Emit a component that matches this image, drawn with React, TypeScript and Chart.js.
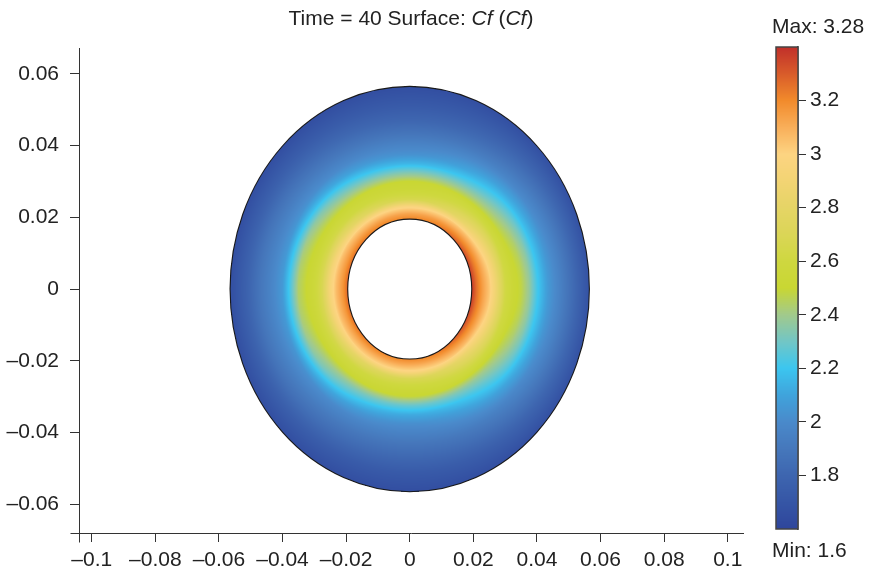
import React, { useEffect, useRef } from 'react';
import { Chart, registerables } from 'chart.js';

Chart.register(...registerables);

// ---------------- data ----------------
const innerRadius = 0.0195;
const outerRadius = 0.0565;

// radial sample positions (m) and Cf read along four directions
const radii = [0.0195, 0.021, 0.023, 0.025, 0.0275, 0.03, 0.0325, 0.035, 0.0375, 0.04, 0.0435, 0.047, 0.051, 0.0565];
const cfRight = [3.38, 3.26, 3.14, 3.04, 2.84, 2.62, 2.53, 2.48, 2.38, 2.22, 2.06, 1.96, 1.84, 1.67];
const cfTop = [3.21, 3.13, 2.97, 2.66, 2.55, 2.5, 2.33, 2.15, 2.03, 1.97, 1.88, 1.8, 1.73, 1.65];
const cfLeft = [3.28, 3.17, 3.07, 2.93, 2.68, 2.56, 2.5, 2.44, 2.24, 2.06, 1.97, 1.89, 1.78, 1.65];
const cfBottom = [3.21, 3.12, 2.98, 2.68, 2.56, 2.49, 2.28, 2.12, 2.02, 1.96, 1.88, 1.81, 1.73, 1.65];

const xTicks = [-0.1, -0.08, -0.06, -0.04, -0.02, 0, 0.02, 0.04, 0.06, 0.08, 0.1];
const yTicks = [-0.06, -0.04, -0.02, 0, 0.02, 0.04, 0.06];
const cbTicks = [1.8, 2, 2.2, 2.4, 2.6, 2.8, 3, 3.2];

const cmapValues = [1.6, 1.7, 1.8, 1.9, 2.0, 2.1, 2.2, 2.3, 2.4, 2.5, 2.6, 2.7, 2.8, 2.9, 3.0, 3.1, 3.2, 3.3, 3.4];
const cmapColors = ['#2f469c', '#3656a6', '#3e66b0', '#4678bc', '#4a8acb', '#40a4dc', '#3cc6f0', '#72c6c6', '#a2ca8c', '#c9d733', '#cfd840', '#dbd657', '#e6d566', '#f3d474', '#fdd482', '#f9af5a', '#f28b2c', '#d95c2a', '#c1302a'];

const titleParts = [
  { text: 'Time = 40 Surface: ', italic: false },
  { text: 'Cf', italic: true },
  { text: ' (', italic: false },
  { text: 'Cf', italic: true },
  { text: ')', italic: false },
];
const maxLabel = 'Max: 3.28';
const minLabel = 'Min: 1.6';

// ---------------- helpers ----------------
const FAMILY = '"Liberation Sans", Arial, Helvetica, sans-serif';
const FONT_SIZE = 21;
const TEXT = '#222222';
const AXIS = '#333333';

const cmapRgb = cmapColors.map((h) => [
  parseInt(h.slice(1, 3), 16),
  parseInt(h.slice(3, 5), 16),
  parseInt(h.slice(5, 7), 16),
]);

function colorOf(v: number): number[] {
  const n = cmapValues.length;
  if (v <= cmapValues[0]) return cmapRgb[0];
  if (v >= cmapValues[n - 1]) return cmapRgb[n - 1];
  let i = 0;
  while (i < n - 2 && v > cmapValues[i + 1]) i++;
  const t = (v - cmapValues[i]) / (cmapValues[i + 1] - cmapValues[i]);
  const a = cmapRgb[i];
  const b = cmapRgb[i + 1];
  return [a[0] + (b[0] - a[0]) * t, a[1] + (b[1] - a[1]) * t, a[2] + (b[2] - a[2]) * t];
}

function profileAt(p: number[], r: number): number {
  const n = radii.length;
  if (r <= radii[0]) return p[0];
  if (r >= radii[n - 1]) return p[n - 1];
  let i = 0;
  while (i < n - 2 && r > radii[i + 1]) i++;
  const t = (r - radii[i]) / (radii[i + 1] - radii[i]);
  return p[i] + (p[i + 1] - p[i]) * t;
}

const profiles = [cfRight, cfTop, cfLeft, cfBottom];

function cfAt(x: number, y: number): number {
  const r = Math.hypot(x, y);
  let th = Math.atan2(y, x);
  if (th < 0) th += Math.PI * 2;
  const seg = th / (Math.PI / 2);
  const i = Math.floor(seg) % 4;
  const f = seg - Math.floor(seg);
  const w = (1 - Math.cos(Math.PI * f)) / 2;
  return (1 - w) * profileAt(profiles[i], r) + w * profileAt(profiles[(i + 1) % 4], r);
}

function fmt(v: number): string {
  if (v === 0) return '0';
  return (v < 0 ? '\u2013' : '') + String(Math.abs(v));
}

const surfacePlugin = {
  id: 'surface',
  beforeDatasetsDraw(chart: any) {
    const { ctx, scales } = chart;
    const xs = scales.x;
    const ys = scales.y;
    const x0 = Math.floor(xs.getPixelForValue(-outerRadius)) - 1;
    const x1 = Math.ceil(xs.getPixelForValue(outerRadius)) + 1;
    const y0 = Math.floor(ys.getPixelForValue(outerRadius)) - 1;
    const y1 = Math.ceil(ys.getPixelForValue(-outerRadius)) + 1;
    const w = x1 - x0;
    const h = y1 - y0;
    const off = document.createElement('canvas');
    off.width = w;
    off.height = h;
    const octx = off.getContext('2d')!;
    const img = octx.createImageData(w, h);
    for (let j = 0; j < h; j++) {
      const dy = ys.getValueForPixel(y0 + j + 0.5);
      for (let i = 0; i < w; i++) {
        const dx = xs.getValueForPixel(x0 + i + 0.5);
        const r = Math.hypot(dx, dy);
        const k = (j * w + i) * 4;
        if (r < innerRadius || r > outerRadius) {
          img.data[k + 3] = 0;
          continue;
        }
        const c = colorOf(cfAt(dx, dy));
        img.data[k] = c[0];
        img.data[k + 1] = c[1];
        img.data[k + 2] = c[2];
        img.data[k + 3] = 255;
      }
    }
    octx.putImageData(img, 0, 0);
    ctx.save();
    ctx.drawImage(off, x0, y0);
    const cx = xs.getPixelForValue(0);
    const cy = ys.getPixelForValue(0);
    ctx.strokeStyle = '#1a1a1a';
    ctx.lineWidth = 1.1;
    for (const rr of [outerRadius, innerRadius]) {
      const rx = xs.getPixelForValue(rr) - cx;
      const ry = cy - ys.getPixelForValue(rr);
      ctx.beginPath();
      ctx.ellipse(cx, cy, rx, ry, 0, 0, Math.PI * 2);
      ctx.stroke();
    }
    ctx.restore();
  },
  afterDraw(chart: any) {
    const { ctx, chartArea } = chart;
    ctx.save();
    // corner extensions of the axes
    ctx.strokeStyle = AXIS;
    ctx.lineWidth = 1;
    const lx = Math.round(chartArea.left) + 0.5;
    const by = Math.round(chartArea.bottom) + 0.5;
    ctx.beginPath();
    ctx.moveTo(lx - 9, by);
    ctx.lineTo(lx, by);
    ctx.moveTo(lx, by);
    ctx.lineTo(lx, by + 9);
    ctx.stroke();
    // title
    ctx.fillStyle = TEXT;
    ctx.textBaseline = 'alphabetic';
    ctx.textAlign = 'left';
    let total = 0;
    const widths: number[] = [];
    for (const p of titleParts) {
      ctx.font = `${p.italic ? 'italic ' : ''}${FONT_SIZE}px ${FAMILY}`;
      const wd = ctx.measureText(p.text).width;
      widths.push(wd);
      total += wd;
    }
    let x = (chartArea.left + chartArea.right) / 2 - total / 2;
    titleParts.forEach((p, i) => {
      ctx.font = `${p.italic ? 'italic ' : ''}${FONT_SIZE}px ${FAMILY}`;
      ctx.fillText(p.text, x, 25);
      x += widths[i];
    });
    ctx.restore();
  },
};

const colorbarPlugin = {
  id: 'colorbar',
  beforeDatasetsDraw(chart: any) {
    const { ctx, chartArea: a, scales } = chart;
    const ys = scales.y;
    ctx.save();
    for (let py = Math.floor(a.top); py < Math.ceil(a.bottom); py++) {
      const c = colorOf(ys.getValueForPixel(py + 0.5));
      ctx.fillStyle = `rgb(${c[0] | 0},${c[1] | 0},${c[2] | 0})`;
      ctx.fillRect(a.left, py, a.right - a.left, 1);
    }
    ctx.strokeStyle = '#444444';
    ctx.lineWidth = 1.5;
    ctx.strokeRect(a.left, a.top, a.right - a.left, a.bottom - a.top);
    ctx.restore();
  },
  afterDraw(chart: any) {
    const { ctx } = chart;
    ctx.save();
    ctx.fillStyle = TEXT;
    ctx.font = `${FONT_SIZE}px ${FAMILY}`;
    ctx.textAlign = 'left';
    ctx.textBaseline = 'alphabetic';
    ctx.fillText(maxLabel, 32, 33);
    ctx.fillText(minLabel, 32, 557);
    ctx.restore();
  },
};

export default function App() {
  const mainRef = useRef<HTMLCanvasElement>(null);
  const cbRef = useRef<HTMLCanvasElement>(null);

  useEffect(() => {
    const tickFont = { family: FAMILY, size: FONT_SIZE };
    const gridOpts = {
      display: true,
      drawOnChartArea: false,
      drawTicks: true,
      tickLength: 9,
      color: AXIS,
      tickColor: AXIS,
      lineWidth: 1,
    };
    const main = new Chart(mainRef.current!, {
      type: 'scatter',
      data: { datasets: [{ data: [], pointRadius: 0 }] },
      options: {
        responsive: false,
        animation: false,
        devicePixelRatio: 1,
        events: [],
        layout: { padding: { left: 0, right: 130, top: 48, bottom: 0 } },
        plugins: { legend: { display: false }, tooltip: { enabled: false }, title: { display: false } },
        scales: {
          x: {
            type: 'linear',
            min: -0.104,
            max: 0.1048,
            afterBuildTicks: (s: any) => {
              s.ticks = xTicks.map((v) => ({ value: v }));
            },
            afterFit: (s: any) => {
              s.height = 42;
            },
            grid: gridOpts,
            border: { display: true, color: AXIS, width: 1 },
            ticks: { callback: (v: any) => fmt(Number(v)), font: tickFont, color: TEXT, padding: 6, maxRotation: 0, autoSkip: false },
          },
          y: {
            type: 'linear',
            min: -0.068,
            max: 0.0672,
            afterBuildTicks: (s: any) => {
              s.ticks = yTicks.map((v) => ({ value: v }));
            },
            afterFit: (s: any) => {
              s.width = 79;
            },
            grid: gridOpts,
            border: { display: true, color: AXIS, width: 1 },
            ticks: { callback: (v: any) => fmt(Number(v)), font: tickFont, color: TEXT, padding: 11, autoSkip: false },
          },
        },
      } as any,
      plugins: [surfacePlugin],
    });

    const cb = new Chart(cbRef.current!, {
      type: 'scatter',
      data: { datasets: [{ data: [], pointRadius: 0 }] },
      options: {
        responsive: false,
        animation: false,
        devicePixelRatio: 1,
        events: [],
        layout: { padding: { left: 36, right: 0, top: 47, bottom: 46 } },
        plugins: { legend: { display: false }, tooltip: { enabled: false }, title: { display: false } },
        scales: {
          x: { type: 'linear', display: false, min: 0, max: 1 },
          y: {
            type: 'linear',
            position: 'right',
            min: 1.6,
            max: 3.4,
            afterBuildTicks: (s: any) => {
              s.ticks = cbTicks.map((v) => ({ value: v }));
            },
            afterFit: (s: any) => {
              s.width = 75;
            },
            grid: { ...gridOpts, tickLength: 8 },
            border: { display: true, color: '#444444', width: 1.5 },
            ticks: { callback: (v: any) => fmt(Number(v)), font: tickFont, color: TEXT, padding: 4, autoSkip: false },
          },
        },
      } as any,
      plugins: [colorbarPlugin],
    });

    return () => {
      main.destroy();
      cb.destroy();
    };
  }, []);

  return (
    <div style={{ position: 'absolute', left: 0, top: 0, width: 873, height: 575, background: '#ffffff' }}>
      <canvas ref={mainRef} width={873} height={575} style={{ position: 'absolute', left: 0, top: 0, width: 873, height: 575 }} />
      <canvas ref={cbRef} width={133} height={575} style={{ position: 'absolute', left: 740, top: 0, width: 133, height: 575 }} />
    </div>
  );
}
